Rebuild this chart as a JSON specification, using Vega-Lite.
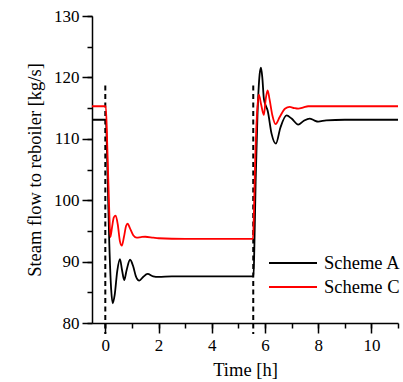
{
  "$schema": "https://vega.github.io/schema/vega-lite/v6.json",
  "width": 306,
  "height": 307,
  "autosize": {"type": "none"},
  "padding": {"left": 92, "top": 16, "right": 5, "bottom": 59},
  "config": {
    "view": {"stroke": null},
    "font": "Liberation Serif, Times New Roman, DejaVu Serif, serif",
    "axis": {
      "grid": false,
      "domainColor": "black",
      "domainWidth": 1.5,
      "tickColor": "black",
      "tickWidth": 1.5,
      "labelColor": "black",
      "labelFont": "Liberation Serif, Times New Roman, DejaVu Serif, serif",
      "labelFontSize": 17,
      "titleFont": "Liberation Serif, Times New Roman, DejaVu Serif, serif",
      "titleFontSize": 18.5,
      "titleFontWeight": "normal",
      "titleColor": "black"
    },
    "legend": {
      "labelFont": "Liberation Serif, Times New Roman, DejaVu Serif, serif"
    }
  },
  "datasets": {
    "series": [
      {"t": -0.5, "v": 113.1, "s": "Scheme A"},
      {"t": 0.0, "v": 113.1, "s": "Scheme A"},
      {"t": 0.02, "v": 113.1, "s": "Scheme A"},
      {"t": 0.08, "v": 105, "s": "Scheme A"},
      {"t": 0.15, "v": 93, "s": "Scheme A"},
      {"t": 0.22, "v": 85.5, "s": "Scheme A"},
      {"t": 0.28, "v": 83.2, "s": "Scheme A"},
      {"t": 0.35, "v": 84.5, "s": "Scheme A"},
      {"t": 0.45, "v": 88.5, "s": "Scheme A"},
      {"t": 0.55, "v": 90.4, "s": "Scheme A"},
      {"t": 0.63, "v": 88.6, "s": "Scheme A"},
      {"t": 0.71, "v": 87.0, "s": "Scheme A"},
      {"t": 0.8, "v": 88.6, "s": "Scheme A"},
      {"t": 0.93, "v": 90.3, "s": "Scheme A"},
      {"t": 1.05, "v": 89.2, "s": "Scheme A"},
      {"t": 1.15, "v": 87.6, "s": "Scheme A"},
      {"t": 1.28, "v": 86.9, "s": "Scheme A"},
      {"t": 1.42, "v": 87.5, "s": "Scheme A"},
      {"t": 1.59, "v": 88.0, "s": "Scheme A"},
      {"t": 1.8, "v": 87.6, "s": "Scheme A"},
      {"t": 2.0, "v": 87.5, "s": "Scheme A"},
      {"t": 2.5, "v": 87.6, "s": "Scheme A"},
      {"t": 3.5, "v": 87.6, "s": "Scheme A"},
      {"t": 4.5, "v": 87.6, "s": "Scheme A"},
      {"t": 5.57, "v": 87.6, "s": "Scheme A"},
      {"t": 5.6, "v": 92, "s": "Scheme A"},
      {"t": 5.65, "v": 103, "s": "Scheme A"},
      {"t": 5.72, "v": 114, "s": "Scheme A"},
      {"t": 5.8, "v": 120.5, "s": "Scheme A"},
      {"t": 5.85, "v": 121.6, "s": "Scheme A"},
      {"t": 5.9, "v": 120, "s": "Scheme A"},
      {"t": 5.96, "v": 116.5, "s": "Scheme A"},
      {"t": 6.03, "v": 115.4, "s": "Scheme A"},
      {"t": 6.1, "v": 114.6, "s": "Scheme A"},
      {"t": 6.25, "v": 110.8, "s": "Scheme A"},
      {"t": 6.41, "v": 109.2, "s": "Scheme A"},
      {"t": 6.58, "v": 111.8, "s": "Scheme A"},
      {"t": 6.81, "v": 113.8, "s": "Scheme A"},
      {"t": 7.0, "v": 113.3, "s": "Scheme A"},
      {"t": 7.25, "v": 112.3, "s": "Scheme A"},
      {"t": 7.45, "v": 112.9, "s": "Scheme A"},
      {"t": 7.68, "v": 113.3, "s": "Scheme A"},
      {"t": 7.85, "v": 113.0, "s": "Scheme A"},
      {"t": 8.0, "v": 112.8, "s": "Scheme A"},
      {"t": 8.3, "v": 113.0, "s": "Scheme A"},
      {"t": 9.0, "v": 113.1, "s": "Scheme A"},
      {"t": 11.0, "v": 113.1, "s": "Scheme A"},
      {"t": -0.5, "v": 115.3, "s": "Scheme C"},
      {"t": 0.0, "v": 115.3, "s": "Scheme C"},
      {"t": 0.02, "v": 115.3, "s": "Scheme C"},
      {"t": 0.08, "v": 108, "s": "Scheme C"},
      {"t": 0.15, "v": 98, "s": "Scheme C"},
      {"t": 0.19, "v": 94.0, "s": "Scheme C"},
      {"t": 0.25, "v": 95.5, "s": "Scheme C"},
      {"t": 0.32, "v": 97.2, "s": "Scheme C"},
      {"t": 0.39, "v": 97.5, "s": "Scheme C"},
      {"t": 0.47, "v": 96, "s": "Scheme C"},
      {"t": 0.55, "v": 93.3, "s": "Scheme C"},
      {"t": 0.62, "v": 92.6, "s": "Scheme C"},
      {"t": 0.7, "v": 94, "s": "Scheme C"},
      {"t": 0.78, "v": 95.8, "s": "Scheme C"},
      {"t": 0.84, "v": 96.2, "s": "Scheme C"},
      {"t": 0.92, "v": 95.5, "s": "Scheme C"},
      {"t": 1.05, "v": 94.3, "s": "Scheme C"},
      {"t": 1.18, "v": 93.9, "s": "Scheme C"},
      {"t": 1.35, "v": 94.0, "s": "Scheme C"},
      {"t": 1.5, "v": 94.05, "s": "Scheme C"},
      {"t": 1.8, "v": 93.9, "s": "Scheme C"},
      {"t": 2.0, "v": 93.8, "s": "Scheme C"},
      {"t": 3.0, "v": 93.7, "s": "Scheme C"},
      {"t": 4.5, "v": 93.7, "s": "Scheme C"},
      {"t": 5.55, "v": 93.7, "s": "Scheme C"},
      {"t": 5.58, "v": 97, "s": "Scheme C"},
      {"t": 5.63, "v": 106, "s": "Scheme C"},
      {"t": 5.7, "v": 114, "s": "Scheme C"},
      {"t": 5.77, "v": 117.2, "s": "Scheme C"},
      {"t": 5.86, "v": 115.5, "s": "Scheme C"},
      {"t": 5.96, "v": 113.9, "s": "Scheme C"},
      {"t": 6.03, "v": 116.5, "s": "Scheme C"},
      {"t": 6.1, "v": 117.9, "s": "Scheme C"},
      {"t": 6.17, "v": 116.5, "s": "Scheme C"},
      {"t": 6.28, "v": 113.8, "s": "Scheme C"},
      {"t": 6.4, "v": 112.4, "s": "Scheme C"},
      {"t": 6.55, "v": 113.5, "s": "Scheme C"},
      {"t": 6.75, "v": 114.9, "s": "Scheme C"},
      {"t": 6.93, "v": 115.2, "s": "Scheme C"},
      {"t": 7.1, "v": 115.0, "s": "Scheme C"},
      {"t": 7.25, "v": 114.9, "s": "Scheme C"},
      {"t": 7.45, "v": 115.1, "s": "Scheme C"},
      {"t": 7.62, "v": 115.3, "s": "Scheme C"},
      {"t": 8.0, "v": 115.3, "s": "Scheme C"},
      {"t": 11.0, "v": 115.3, "s": "Scheme C"}
    ],
    "events": [
      {"t": 0.0, "ytop": 118.7, "ybot": 78.2},
      {"t": 5.56, "ytop": 118.7, "ybot": 78.2}
    ]
  },
  "layer": [
    {
      "data": {"name": "events"},
      "mark": {"type": "rule", "strokeDash": [5, 3.5], "strokeWidth": 2, "color": "black"},
      "encoding": {
        "x": {
          "field": "t", "type": "quantitative",
          "scale": {"domain": [-0.5, 11], "nice": false, "zero": false},
          "axis": {"orient": "bottom", "values": [0, 1, 2, 3, 4, 5, 6, 7, 8, 9, 10, 11], "labels": false, "tickSize": 5, "domain": false, "title": null}
        },
        "y": {
          "field": "ytop", "type": "quantitative",
          "scale": {"domain": [80, 130], "nice": false, "zero": false},
          "axis": {"orient": "left", "values": [80, 85, 90, 95, 100, 105, 110, 115, 120, 125, 130], "labels": false, "tickSize": 5, "domain": false, "title": null}
        },
        "y2": {"field": "ybot"}
      }
    },
    {
      "data": {"name": "series"},
      "mark": {"type": "line", "interpolate": "monotone", "strokeWidth": 1.8},
      "encoding": {
        "x": {
          "field": "t", "type": "quantitative",
          "scale": {"domain": [-0.5, 11], "nice": false, "zero": false},
          "axis": {"orient": "bottom", "values": [0, 2, 4, 6, 8, 10], "tickSize": 10, "labelPadding": 4, "title": "Time [h]", "titlePadding": 7}
        },
        "y": {
          "field": "v", "type": "quantitative",
          "scale": {"domain": [80, 130], "nice": false, "zero": false},
          "axis": {"orient": "left", "values": [80, 90, 100, 110, 120, 130], "tickSize": 10, "labelPadding": 3, "title": "Steam flow to reboiler [kg/s]", "titlePadding": 9}
        },
        "color": {
          "field": "s", "type": "nominal",
          "scale": {"domain": ["Scheme A", "Scheme C"], "range": ["#000000", "#ff0000"]},
          "legend": {
            "orient": "none", "legendX": 188, "legendY": 234, "title": null,
            "symbolType": "M-2,0H2", "symbolSize": 576, "symbolStrokeWidth": 2,
            "labelFont": "Liberation Serif, Times New Roman, DejaVu Serif, serif", "labelFontSize": 18.5, "labelColor": "black",
            "labelOffset": 18, "padding": 0, "rowPadding": 1
          }
        }
      }
    }
  ],
  "resolve": {"axis": {"x": "independent", "y": "independent"}}
}
